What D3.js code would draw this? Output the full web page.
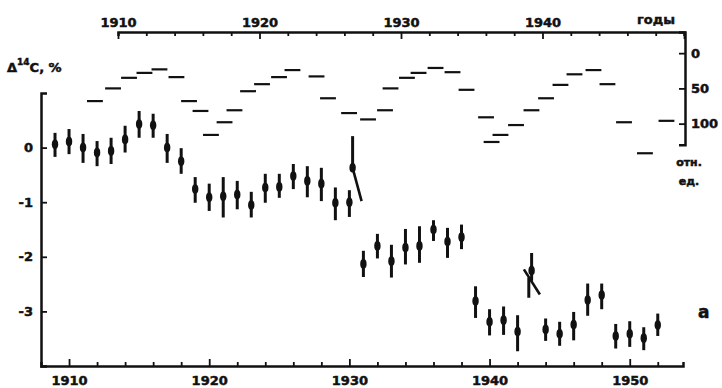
<!DOCTYPE html>
<html>
<head>
<meta charset="utf-8">
<script src="https://cdn.jsdelivr.net/npm/d3@7"></script>
<style>
  body { margin: 0; background: #fff; }
  svg { display: block; }
  text { font-family: "DejaVu Sans", sans-serif; font-weight: bold; fill: #111; stroke: #111; stroke-width: 0.5px; }
  .axis path, .axis line { stroke: #111; }
</style>
</head>
<body>
<script>
// Δ14C, % (bottom/left axes)
const years = d3.range(1909, 1953);
const deltaC = [0.06, 0.11, 0.00, -0.09, -0.06, 0.15, 0.43, 0.41, 0.00, -0.25,
  -0.76, -0.91, -0.89, -0.86, -1.05, -0.73, -0.72, -0.52, -0.61, -0.66,
  -1.01, -1.00, -2.13, -1.80, -2.08, -1.83, -1.80, -1.50, -1.72, -1.64,
  -2.81, -3.19, -3.16, -3.37, -2.25, -3.33, -3.41, -3.24, -2.79, -2.70,
  -3.45, -3.41, -3.49, -3.25];
const deltaHi = [0.27, 0.34, 0.25, 0.12, 0.18, 0.40, 0.67, 0.62, 0.25, -0.01,
  -0.54, -0.66, -0.54, -0.61, -0.81, -0.48, -0.48, -0.30, -0.34, -0.37,
  -0.73, -0.78, -1.89, -1.58, -1.78, -1.49, -1.44, -1.33, -1.47, -1.41,
  -2.54, -2.96, -2.91, -3.07, -1.93, -3.13, -3.19, -3.01, -2.49, -2.49,
  -3.23, -3.18, -3.29, -3.04];
const deltaLo = [-0.17, -0.12, -0.28, -0.34, -0.30, -0.09, 0.18, 0.18, -0.28, -0.48,
  -1.01, -1.16, -1.28, -1.13, -1.28, -1.01, -0.92, -0.76, -0.91, -0.98,
  -1.33, -1.27, -2.37, -2.03, -2.38, -2.14, -2.11, -1.71, -2.02, -1.86,
  -3.12, -3.44, -3.43, -3.73, -2.44, -3.54, -3.63, -3.53, -3.08, -2.96,
  -3.68, -3.65, -3.71, -3.45];

// odd marks near 1930 and 1943
const extraYears = [1930.23, 1942.8];
const extraC = [-0.37, null];
const extraHi = [0.21, -2.38];
const extraLo = [-0.37, -2.75];
const slashes = [[1930.23, -0.37, 1930.87, -0.98], [1942.45, -2.23, 1943.59, -2.69]];

// solar activity, отн. ед. (top/right axes)
const spotYears = [1908.37, 1909.65, 1910.78, 1911.87, 1912.93, 1914.13, 1915.02, 1915.83,
  1916.57, 1917.53, 1918.23, 1919.19, 1920.18, 1921.38, 1922.33, 1924.03, 1924.84,
  1926.33, 1927.67, 1928.87, 1929.26, 1930.42, 1931.24, 1932.44, 1933.64, 1934.63,
  1936.01, 1936.40, 1937.03, 1938.13, 1939.22, 1940.25, 1941.27, 1942.26, 1943.60,
  1944.59, 1945.76, 1947.24, 1948.76];
const spotValues = [68, 50, 35, 28, 23, 34, 68, 82, 116, 98, 81, 54, 44, 34, 24, 33, 64,
  85, 94, 81, 50, 35, 28, 21, 27, 52, 91, 126, 116, 102, 81, 64, 45, 30, 24, 44, 98, 142, 96];

const bottomTicks = d3.range(1910, 1953, 2);
const topTicks = d3.range(1910, 1951, 2);
const leftTicks = [0, -1, -2, -3];
const rightTicks = [0, 50, 100];

const W = 722, H = 388;
const svg = d3.select("body").append("svg").attr("width", W).attr("height", H);

const x = d3.scaleLinear().domain([1908, 1953.8]).range([41, 683]);
const y = d3.scaleLinear().domain([-4, 1]).range([366, 93]);
const xTop = d3.scaleLinear().domain([1910, 1950]).range([118, 684]);
const yR = d3.scaleLinear().domain([-30, 130]).range([32, 144.8]);

// bottom axis
const gb = svg.append("g").attr("class", "axis").attr("transform", "translate(0,366)")
  .call(d3.axisBottom(x).tickValues(bottomTicks).tickSizeOuter(0).tickSize(-4)
    .tickFormat(d => d % 10 === 0 ? d : ""));
gb.select(".domain").attr("stroke-width", 2.5);
gb.selectAll(".tick line").attr("stroke-width", 1.8).attr("y2", d => d % 10 === 0 ? -7 : -4);
gb.selectAll(".tick text").attr("y", 19).attr("dy", 0).style("font-size", "13px");

// left axis
const gl = svg.append("g").attr("class", "axis").attr("transform", "translate(41,0)")
  .call(d3.axisLeft(y).tickValues(leftTicks).tickSizeOuter(0).tickSize(-6).tickPadding(8)
    .tickFormat(d => String(d)));
gl.select(".domain").attr("stroke-width", 2.5);
gl.selectAll(".tick line").attr("stroke-width", 1.8);
gl.selectAll(".tick text").style("font-size", "13px");

// top axis
const gt = svg.append("g").attr("class", "axis").attr("transform", "translate(0,32)")
  .call(d3.axisTop(xTop).tickValues(topTicks).tickSizeOuter(0).tickSize(-4).tickPadding(5)
    .tickFormat(d => d % 10 === 0 && d < 1950 ? d : ""));
gt.select(".domain").attr("stroke-width", 2.5);
gt.selectAll(".tick line").attr("stroke-width", 1.8).attr("y2", d => d % 10 === 0 ? 7 : 4);
gt.selectAll(".tick text").style("font-size", "13px");

// right axis
const gr = svg.append("g").attr("class", "axis").attr("transform", "translate(685,0)")
  .call(d3.axisRight(yR).tickValues(rightTicks).tickSizeOuter(0).tickSize(-6).tickPadding(6));
gr.select(".domain").attr("stroke-width", 2.5);
gr.selectAll(".tick line").attr("stroke-width", 1.8);
gr.selectAll(".tick text").style("font-size", "13px");

// labels
svg.append("text").attr("x", 637).attr("y", 24).style("font-size", "13px").text("годы");
svg.append("text").attr("x", 689).attr("y", 166).attr("text-anchor", "middle")
  .style("font-size", "11px").text("отн.");
svg.append("text").attr("x", 689).attr("y", 185).attr("text-anchor", "middle")
  .style("font-size", "11px").text("ед.");
const yl = svg.append("text").attr("x", 7).attr("y", 72).style("font-size", "13px");
yl.append("tspan").text("Δ");
yl.append("tspan").attr("dy", -7).style("font-size", "9px").text("14");
yl.append("tspan").attr("dy", 7).text("C, %");
svg.append("text").attr("x", 698).attr("y", 318).style("font-size", "17px").text("а");

// sunspot dashes
svg.append("g").selectAll("line").data(spotYears).join("line")
  .attr("x1", (d) => xTop(d - 0.56)).attr("x2", (d) => xTop(d + 0.56))
  .attr("y1", (d, i) => yR(spotValues[i])).attr("y2", (d, i) => yR(spotValues[i]))
  .attr("stroke", "#111").attr("stroke-width", 2.2);

// error bars
const pts = svg.append("g");
pts.selectAll("line").data(years).join("line")
  .attr("x1", d => x(d)).attr("x2", d => x(d))
  .attr("y1", (d, i) => y(deltaHi[i])).attr("y2", (d, i) => y(deltaLo[i]))
  .attr("stroke", "#111").attr("stroke-width", 3);
pts.selectAll("ellipse").data(years).join("ellipse")
  .attr("cx", d => x(d)).attr("cy", (d, i) => y(deltaC[i]))
  .attr("rx", 3.2).attr("ry", 4.8).attr("fill", "#111");

// extra marks
const ex = svg.append("g");
extraYears.forEach((yr, i) => {
  ex.append("line").attr("x1", x(yr)).attr("x2", x(yr))
    .attr("y1", y(extraHi[i])).attr("y2", y(extraLo[i]))
    .attr("stroke", "#111").attr("stroke-width", 3);
  if (extraC[i] !== null) {
    ex.append("ellipse").attr("cx", x(yr)).attr("cy", y(extraC[i]))
      .attr("rx", 3.2).attr("ry", 4.8).attr("fill", "#111");
  }
});
ex.selectAll("line.slash").data(slashes).join("line").attr("class", "slash")
  .attr("x1", d => x(d[0])).attr("y1", d => y(d[1]))
  .attr("x2", d => x(d[2])).attr("y2", d => y(d[3]))
  .attr("stroke", "#111").attr("stroke-width", 2.6);
</script>
</body>
</html>
